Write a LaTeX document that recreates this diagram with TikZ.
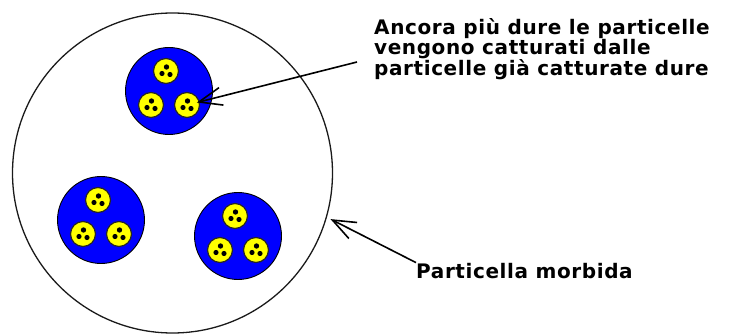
\documentclass[tikz,border=0pt]{standalone}
\usepackage{fontspec}
\usepackage{tikz}
\usetikzlibrary{
  arrows.meta,
  positioning
}
\newfontfamily\ptfont[LetterSpace=3]{DejaVu Sans}
\definecolor{ptBlue}{HTML}{0000FF}
\definecolor{ptYellow}{HTML}{FFFF00}
\definecolor{ptEdge}{HTML}{1A1A1A}
\tikzset{
  softpart/.style={
    draw=ptEdge, circle, line width=1.3pt, minimum size=320pt, inner sep=0pt
  },
  hardpart/.style={
    draw=black, circle, fill=ptBlue, line width=0.9pt, minimum size=87pt, inner sep=0pt
  },
  quark/.style={
    draw=black!85, circle, fill=ptYellow, line width=1.2pt, minimum size=25pt, inner sep=0pt,
    path picture={
      \fill[black] ([shift={(0.5pt,4pt)}]path picture bounding box.center) circle (2.7pt);
      \fill[black] ([shift={(-4pt,-2.5pt)}]path picture bounding box.center) circle (2.6pt);
      \fill[black] ([shift={(4pt,-3.5pt)}]path picture bounding box.center) circle (2.6pt);
    }
  },
  ptlabel/.style={
    font=\ptfont\bfseries\fontsize{20}{20}\selectfont, align=left, inner sep=0pt
  },
  pointer/.style={
    -{Straight Barb[length=23pt, width=18pt, line width=1.6pt]}, line width=1.6pt, black
  }
}

\begin{document}
\begin{tikzpicture}[x=1pt, y=-1pt]
  \useasboundingbox (0,0) rectangle (737,334);
  % soft particle
  \node[softpart] (soft) at (172.5,173) {};
  % hard particles, three quarks each
  \foreach \c/\x/\y in {top/169/91, left/101/220, right/238/236} {
    \node[hardpart] (h-\c) at (\x,\y) {};
    \node[quark] (q-\c-1) at ([shift={(-3,-20)}]h-\c.center) {};
    \node[quark] (q-\c-2) at ([shift={(-18,14)}]h-\c.center) {};
    \node[quark] (q-\c-3) at ([shift={(18,14)}]h-\c.center) {};
  }
  % labels
  \node[ptlabel, anchor=north west] (lbl-hard) at (374,18)
    {Ancora più dure le particelle\\vengono catturati dalle\\particelle già catturate dure};
  \node[ptlabel, anchor=base west] (lbl-soft) at (416,278) {Particella morbida};
  \coordinate (hard-tail) at (357,62);
  \draw[pointer, shorten >=-3pt] (hard-tail) -- (q-top-3);
  \draw[pointer, shorten >=4pt] (lbl-soft.north west) -- (soft.-16);
\end{tikzpicture}
\end{document}
